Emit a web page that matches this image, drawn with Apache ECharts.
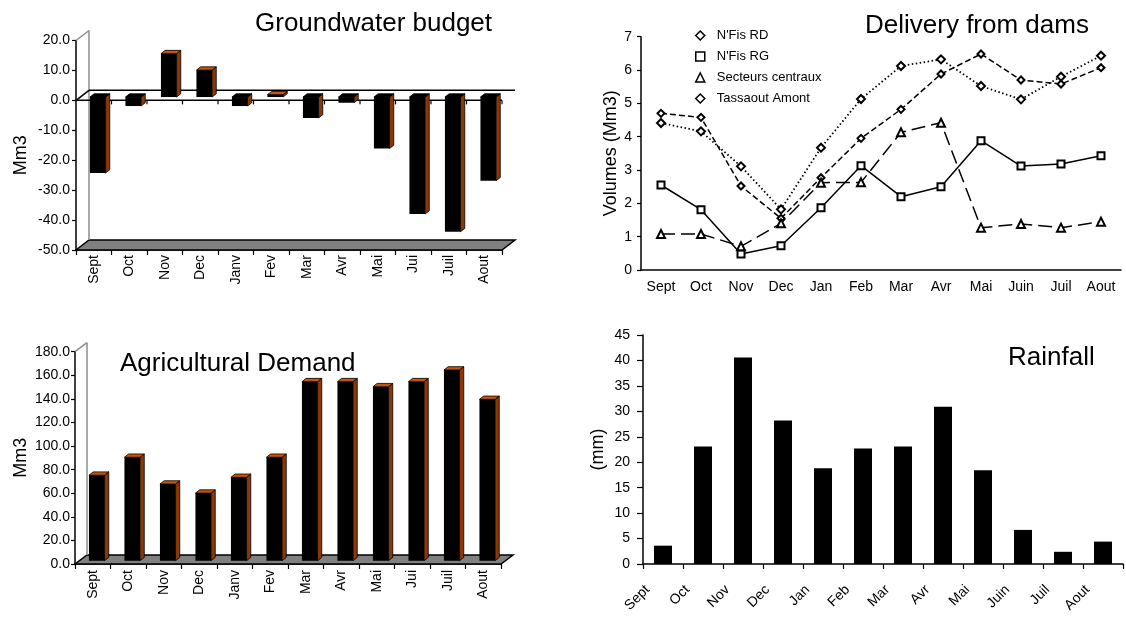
<!DOCTYPE html>
<html>
<head>
<meta charset="utf-8">
<script src="https://cdn.jsdelivr.net/npm/echarts@6/dist/echarts.min.js"></script>
<style>
  html, body { margin: 0; padding: 0; background: #fff; }
  #main { width: 1126px; height: 617px; }
</style>
</head>
<body>
<div id="main"></div>
<script>
// month labels
var monthsFr = ['Sept', 'Oct', 'Nov', 'Dec', 'Janv', 'Fev', 'Mar', 'Avr', 'Mai', 'Jui', 'Juil', 'Aout'];
var monthsDam = ['Sept', 'Oct', 'Nov', 'Dec', 'Jan', 'Feb', 'Mar', 'Avr', 'Mai', 'Juin', 'Juil', 'Aout'];

// groundwater budget (Mm3)
var groundwater = [-25.4, -3.0, 14.5, 9.0, -3.0, 0.8, -7.0, -1.9, -17.2, -39.1, -45.0, -28.0];
// agricultural demand (Mm3)
var agriDemand = [72.5, 87.7, 65.0, 57.3, 70.7, 87.7, 151.8, 151.8, 147.5, 151.8, 161.7, 136.8];
// delivery from dams (Mm3)
var nfisRD = [4.70, 4.58, 2.52, 1.55, 2.77, 3.95, 4.82, 5.88, 6.48, 5.70, 5.58, 6.07];
var nfisRG = [2.55, 1.81, 0.48, 0.73, 1.87, 3.13, 2.20, 2.50, 3.88, 3.12, 3.18, 3.43];
var secteurs = [1.08, 1.08, 0.71, 1.40, 2.62, 2.63, 4.13, 4.42, 1.27, 1.38, 1.27, 1.45];
var tassaout = [4.41, 4.16, 3.11, 1.82, 3.67, 5.13, 6.12, 6.32, 5.52, 5.12, 5.80, 6.43];
// rainfall (mm)
var rainfall = [3.6, 23.1, 40.6, 28.2, 18.8, 22.7, 23.1, 30.9, 18.4, 6.7, 2.4, 4.4];

var font = "'Liberation Sans', Arial, sans-serif";
var sideColor = '#8c3708';
var topColor = '#c4540e';

// excel style 3d column: front face black, orange side and top
function bar3d(params, api) {
  var i = api.value(0), v = api.value(1);
  var p0 = api.coord([i, 0]);
  var p1 = api.coord([i, v]);
  var band = api.size([1, 0])[0];
  var w = band * 0.44;
  var dx = 4.2, dy = -3.3;
  var xl = p0[0] - w / 2 + 4, xr = xl + w;
  var yTop = Math.min(p0[1], p1[1]) + dy;
  var yBot = Math.max(p0[1], p1[1]) + dy;
  return {
    type: 'group',
    children: [
      { type: 'polygon', shape: { points: [[xr, yTop], [xr + dx, yTop + dy], [xr + dx, yBot + dy], [xr, yBot]] },
        style: { fill: sideColor, stroke: '#000', lineWidth: 0.8 } },
      { type: 'polygon', shape: { points: [[xl, yTop], [xr, yTop], [xr + dx, yTop + dy], [xl + dx, yTop + dy]] },
        style: { fill: v > 0 ? topColor : '#000', stroke: '#000', lineWidth: 0.8 } },
      { type: 'rect', shape: { x: xl, y: yTop, width: w, height: yBot - yTop }, style: { fill: '#000' } }
    ]
  };
}

// floor, back wall and (optional) zero plane of the 3d box
function frame(wx, wy, withZero) {
  return function (params, api) {
    var cs = params.coordSys;
    var x0 = cs.x, x1 = cs.x + cs.width, yT = cs.y, yB = cs.y + cs.height;
    var band = api.size([1, 0])[0];
    var kids = [
      { type: 'polygon', shape: { points: [[x0, yB], [x1, yB], [x1 + wx, yB + wy], [x0 + wx, yB + wy]] },
        style: { fill: '#808080', stroke: '#000', lineWidth: 1.5 } },
      { type: 'line', shape: { x1: x0 + wx, y1: yT + wy, x2: x0 + wx, y2: yB + wy }, style: { stroke: '#8c8c8c', lineWidth: 1.5 } },
      { type: 'line', shape: { x1: x0, y1: yT, x2: x0 + wx, y2: yT + wy }, style: { stroke: '#8c8c8c', lineWidth: 1.5 } }
    ];
    if (withZero) {
      var z = api.coord([0, 0])[1];
      kids.push({ type: 'line', shape: { x1: x0, y1: z, x2: x1, y2: z }, style: { stroke: '#000', lineWidth: 1.5 } });
      kids.push({ type: 'line', shape: { x1: x0 + wx, y1: z + wy, x2: x1 + wx, y2: z + wy }, style: { stroke: '#000', lineWidth: 1.5 } });
      kids.push({ type: 'line', shape: { x1: x0, y1: z, x2: x0 + wx, y2: z + wy }, style: { stroke: '#000', lineWidth: 1.5 } });
      for (var k = 1; k <= 12; k++) {
        var tx = x0 + k * band;
        kids.push({ type: 'line', shape: { x1: tx, y1: z, x2: tx, y2: z + 4 }, style: { stroke: '#000', lineWidth: 1.2 } });
      }
    }
    return { type: 'group', children: kids };
  };
}

function xAxisOf(grid, data, label) {
  return {
    type: 'category', gridIndex: grid, data: data, position: 'bottom',
    axisLine: { onZero: false, lineStyle: { color: '#000', width: 1.5 } },
    axisTick: { show: true, length: 5, lineStyle: { color: '#000', width: 1.2 } },
    axisLabel: Object.assign({ interval: 0, color: '#000', fontSize: 14, fontFamily: font }, label),
    splitLine: { show: false }
  };
}

function yAxisOf(grid, min, max, step, name, nameGap, extra) {
  return Object.assign({
    type: 'value', gridIndex: grid, min: min, max: max, interval: step,
    name: name, nameLocation: 'middle', nameGap: nameGap,
    nameTextStyle: { color: '#000', fontSize: 18, fontFamily: font },
    axisLine: { show: true, lineStyle: { color: '#000', width: 1.5 } },
    axisTick: { show: true, length: 4, lineStyle: { color: '#000', width: 1.2 } },
    axisLabel: { color: '#000', fontSize: 14, fontFamily: font, margin: 6 },
    splitLine: { show: false }
  }, extra || {});
}

var openMark = { color: '#fff', borderColor: '#000', borderWidth: 1.5 };

var chart = echarts.init(document.getElementById('main'), null, { renderer: 'canvas' });
chart.setOption({
  animation: false,
  backgroundColor: '#fff',
  textStyle: { fontFamily: font },
  title: [
    { text: 'Groundwater budget', left: 250, top: 6, textStyle: { fontSize: 26, fontWeight: 'normal', color: '#000', fontFamily: font } },
    { text: 'Delivery from dams', left: 860, top: 8, textStyle: { fontSize: 26, fontWeight: 'normal', color: '#000', fontFamily: font } },
    { text: 'Agricultural Demand', left: 115, top: 346, textStyle: { fontSize: 26, fontWeight: 'normal', color: '#000', fontFamily: font } },
    { text: 'Rainfall', left: 1003, top: 340, textStyle: { fontSize: 26, fontWeight: 'normal', color: '#000', fontFamily: font } }
  ],
  legend: {
    orient: 'vertical', left: 690, top: 24, itemWidth: 9, itemHeight: 9, itemGap: 8,
    selectedMode: false,
    textStyle: { fontSize: 13, color: '#000', fontFamily: font, padding: [0, 0, 0, 7] },
    data: [
      { name: "N'Fis RD", icon: 'diamond', itemStyle: openMark },
      { name: "N'Fis RG", icon: 'rect', itemStyle: openMark },
      { name: 'Secteurs centraux', icon: 'triangle', itemStyle: openMark },
      { name: 'Tassaout Amont', icon: 'diamond', itemStyle: openMark }
    ]
  },
  grid: [
    { left: 76, top: 40.5, width: 426, height: 209.5 },
    { left: 641, top: 36.7, width: 480, height: 233.3 },
    { left: 75, top: 351.7, width: 426, height: 212.3 },
    { left: 643, top: 335, width: 480, height: 229 }
  ],
  xAxis: [
    xAxisOf(0, monthsFr, { rotate: 90, margin: 5 }),
    Object.assign(xAxisOf(1, monthsDam, { margin: 10 }), { axisTick: { length: 3, lineStyle: { color: '#000', width: 1.2 } } }),
    xAxisOf(2, monthsFr, { rotate: 90, margin: 6 }),
    xAxisOf(3, monthsDam, { rotate: 45, margin: 8, padding: [0, 22, 0, 0] })
  ],
  yAxis: [
    yAxisOf(0, -50, 20, 10, 'Mm3', 46, {
      nameTextStyle: { color: '#000', fontSize: 18, fontFamily: font, padding: [0, 20, 0, 0] },
      axisLabel: { color: '#000', fontSize: 14, fontFamily: font, margin: 6, formatter: function (v) { return v.toFixed(1); } }
    }),
    yAxisOf(1, 0, 7, 1, 'Volumes (Mm3)', 15, {
      axisLabel: { color: '#000', fontSize: 14, fontFamily: font, margin: 9 }
    }),
    yAxisOf(2, 0, 180, 20, 'Mm3', 45, {
      axisLabel: { color: '#000', fontSize: 14, fontFamily: font, margin: 5, formatter: function (v) { return v.toFixed(1); } }
    }),
    yAxisOf(3, 0, 45, 5, '(mm)', 36, {
      axisTick: { show: true, length: 6, lineStyle: { color: '#000', width: 1.2 } },
      axisLabel: { color: '#000', fontSize: 14, fontFamily: font, margin: 13 }
    })
  ],
  series: [
    { type: 'custom', name: 'gwFrame', xAxisIndex: 0, yAxisIndex: 0, z: 1, silent: true, clip: false,
      renderItem: frame(13, -10, true), data: [[0, 0]] },
    { type: 'custom', name: 'Groundwater budget', xAxisIndex: 0, yAxisIndex: 0, z: 2, silent: true,
      encode: { x: 0, y: 1 }, renderItem: bar3d,
      data: groundwater.map(function (v, i) { return [i, v]; }) },
    { type: 'custom', name: 'agFrame', xAxisIndex: 2, yAxisIndex: 2, z: 1, silent: true, clip: false,
      renderItem: frame(12, -9, false), data: [[0, 0]] },
    { type: 'custom', name: 'Agricultural Demand', xAxisIndex: 2, yAxisIndex: 2, z: 2, silent: true,
      encode: { x: 0, y: 1 }, renderItem: bar3d,
      data: agriDemand.map(function (v, i) { return [i, v]; }) },
    { type: 'line', name: "N'Fis RD", xAxisIndex: 1, yAxisIndex: 1, data: nfisRD,
      symbol: 'emptyDiamond', symbolSize: 7,
      lineStyle: { color: '#000', width: 1.5, type: [6, 3] },
      itemStyle: { color: '#000', borderColor: '#000', borderWidth: 1.2 } },
    { type: 'line', name: "N'Fis RG", xAxisIndex: 1, yAxisIndex: 1, data: nfisRG,
      symbol: 'emptyRect', symbolSize: 7,
      lineStyle: { color: '#000', width: 1.5 },
      itemStyle: { color: '#000', borderColor: '#000', borderWidth: 1.2 } },
    { type: 'line', name: 'Secteurs centraux', xAxisIndex: 1, yAxisIndex: 1, data: secteurs,
      symbol: 'emptyTriangle', symbolSize: 8,
      lineStyle: { color: '#000', width: 1.5, type: [14, 6] },
      itemStyle: { color: '#000', borderColor: '#000', borderWidth: 1.2 } },
    { type: 'line', name: 'Tassaout Amont', xAxisIndex: 1, yAxisIndex: 1, data: tassaout,
      symbol: 'emptyDiamond', symbolSize: 8,
      lineStyle: { color: '#000', width: 1.8, type: [1.5, 2.5] },
      itemStyle: { color: '#000', borderColor: '#000', borderWidth: 1.2 } },
    { type: 'bar', name: 'Rainfall', xAxisIndex: 3, yAxisIndex: 3, data: rainfall,
      barWidth: 18, itemStyle: { color: '#000' } }
  ]
});
</script>
</body>
</html>
